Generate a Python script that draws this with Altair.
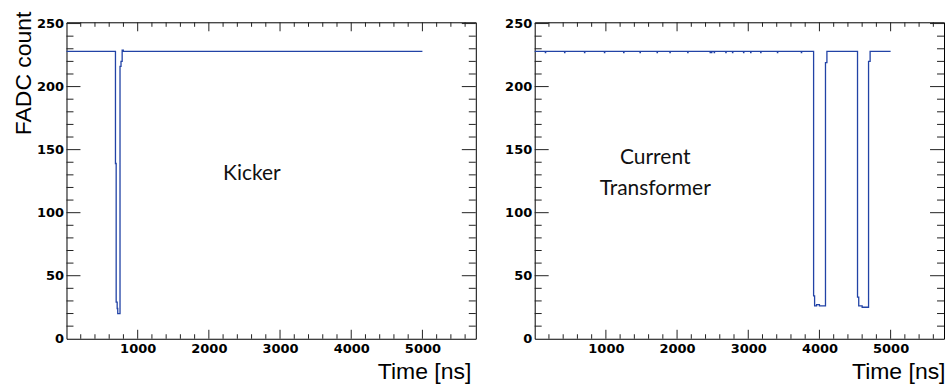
import altair as alt
import pandas as pd

# ---- data ----
# Kicker waveform: change points of the step histogram (time ns, FADC count)
kicker_t = [0, 688, 698, 712, 720, 752, 766, 782, 798, 5000]
kicker_v = [228, 139, 29, 24, 20, 216, 220, 229, 228, 228]

# Current transformer waveform: change points
ct_t = [0, 3918, 3932, 3960, 4000, 4085, 4105, 4535, 4552, 4600, 4690, 4712, 5000]
ct_v = [228, 34, 26, 27, 26, 219, 228, 33, 26, 25, 220, 228, 228]
# single-sample glitches (value 227) on the CT baseline
ct_glitch_t = [150, 420, 700, 980, 1250, 1480, 1720, 1900, 2150, 2465, 2484,
               2522, 2685, 2779, 2934, 3034, 3175, 3410, 3746]
ct_glitch_v = 227
glitch_len = 4

# axis ticks
x_major = [1000, 2000, 3000, 4000, 5000]
x_minor = [t for t in range(200, 5800, 200) if t % 1000 != 0]
y_labels = [0, 50, 100, 150, 200, 250]
y_major = [50, 100, 150, 200, 250]
y_minor = [v for v in range(10, 251, 10) if v % 50 != 0]

x_domain = [0, 5750]
y_domain = [0, 251]

# annotations
kicker_label = {"x": [2605], "y": [131], "txt": ["Kicker"]}
ct_label = {"x": [1693, 1693], "y": [143, 119], "txt": ["Current", "Transformer"]}

LINE_COLOR = "#2243a6"
TICK_COLOR = "#222222"
W, H = 410, 317

kicker_df = pd.DataFrame({"t": kicker_t, "v": kicker_v})
ct_rows = list(zip(ct_t, ct_v))
for g in ct_glitch_t:
    ct_rows.append((g, ct_glitch_v))
    ct_rows.append((g + glitch_len, 228))
ct_df = pd.DataFrame(ct_rows, columns=["t", "v"]).sort_values("t")

xs = alt.Scale(domain=x_domain, nice=False, zero=False)
ys = alt.Scale(domain=y_domain, nice=False, zero=False)


def panel(df, label, ytitle, xtitle_x):
    yaxis_kw = dict(values=y_labels, labelPadding=3, format="d")
    if ytitle:
        yaxis_kw.update(title=ytitle, titleAngle=270, titleAlign="right",
                        titleBaseline="alphabetic", titleX=-36.3, titleY=-11.3)
    else:
        yaxis_kw.update(title=None)
    xaxis = alt.Axis(values=x_major, format="d", labelPadding=3.5, title="Time [ns]",
                     titleAlign="right", titleBaseline="alphabetic",
                     titleX=xtitle_x, titleY=40)
    yaxis = alt.Axis(**yaxis_kw)

    def X(f):
        return alt.X(f, scale=xs, axis=xaxis)

    def Y(f):
        return alt.Y(f, scale=ys, axis=yaxis)

    layers = [alt.Chart(df).mark_line(interpolate="step-after", color=LINE_COLOR,
                                      strokeWidth=1.3).encode(x=X("t:Q"), y=Y("v:Q"))]
    for vals, L in [(x_major, 9), (x_minor, 4.5)]:
        d = pd.DataFrame({"t": vals})
        layers.append(alt.Chart(d).mark_rule(color=TICK_COLOR, strokeWidth=1).encode(
            x=X("t:Q"), y=alt.value(H), y2=alt.value(H - L)))
        layers.append(alt.Chart(d).mark_rule(color=TICK_COLOR, strokeWidth=1).encode(
            x=X("t:Q"), y=alt.value(0), y2=alt.value(L)))
    for vals, L in [(y_major, 14), (y_minor, 7)]:
        d = pd.DataFrame({"v": vals})
        layers.append(alt.Chart(d).mark_rule(color=TICK_COLOR, strokeWidth=1).encode(
            y=Y("v:Q"), x=alt.value(0), x2=alt.value(L)))
        layers.append(alt.Chart(d).mark_rule(color=TICK_COLOR, strokeWidth=1).encode(
            y=Y("v:Q"), x=alt.value(W), x2=alt.value(W - L)))
    layers.append(alt.Chart(pd.DataFrame(label)).mark_text(
        font="Lato", fontSize=21, color="#111111").encode(
        x=X("x:Q"), y=Y("y:Q"), text="txt:N"))
    return alt.layer(*layers).properties(width=W, height=H)


left = panel(kicker_df, kicker_label, "FADC count", W - 5)
right = panel(ct_df, ct_label, None, W + 1)

chart = alt.hconcat(left, right, spacing=59, bounds="flush").configure_view(
    stroke="#000000", strokeWidth=1
).configure_axis(
    domain=False, ticks=False, tickSize=0, grid=False,
    labelFont="DejaVu Sans", labelFontWeight="bold", labelFontSize=13,
    labelColor="#000000",
    titleFont="Liberation Sans", titleFontSize=23, titleFontWeight="normal",
    titleColor="#000000",
).properties(
    padding={"left": 11.6, "top": 10, "right": 3, "bottom": 5},
    background="#ffffff",
)

chart.save("out.html", embed_options={"renderer": "svg", "actions": False})
